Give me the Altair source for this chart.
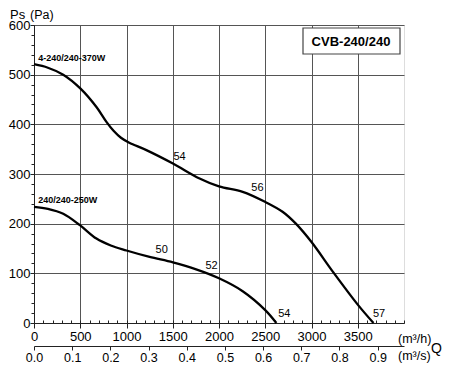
import altair as alt
import pandas as pd

# ---- data ----
q_370 = [0, 150, 316, 503, 675, 783, 860, 940, 1030, 1215, 1502, 1790, 2000, 2256, 2497, 2687, 2831, 3000, 3232, 3500, 3670]
p_370 = [521, 514, 500, 472, 435, 405, 387, 373, 363, 348, 321, 291, 275, 264, 244, 224, 200, 163, 103, 37, 0]
q_250 = [0, 150, 316, 496, 675, 830, 1000, 1250, 1502, 1753, 2000, 2256, 2500, 2620]
p_250 = [234, 230, 220, 197, 170, 156, 146, 133, 122, 108, 90, 64, 26, 0]

series_names = ["4-240/240-370W", "240/240-250W"]
series_label_q = [45, 45]
series_label_p = [533, 248]

point_labels = ["54", "56", "57", "50", "52", "54"]
point_label_q = [1574, 2415, 3730, 1380, 1919, 2706]
point_label_p = [334, 271, 19, 146, 114, 19]

x_ticks_h = [0, 500, 1000, 1500, 2000, 2500, 3000, 3500]
x_minor_h = list(range(0, 4001, 100))
y_ticks = [0, 100, 200, 300, 400, 500, 600]
y_minor = list(range(0, 601, 20))
x_ticks_s = [0.0, 0.1, 0.2, 0.3, 0.4, 0.5, 0.6, 0.7, 0.8, 0.9]

title_text = "CVB-240/240"
axis_texts = ["Ps", "(Pa)", "(m³/h)", "(m³/s)", "Q"]

FONT = "Liberation Sans"
W, H = 370, 298

df = pd.DataFrame({
    "q": q_370 + q_250,
    "p": p_370 + p_250,
    "series": [series_names[0]] * len(q_370) + [series_names[1]] * len(q_250),
})

xs = alt.Scale(domain=[0, 4000], nice=False, zero=False)
ys = alt.Scale(domain=[0, 600], nice=False)

lines = alt.Chart(df).mark_line(color="black", strokeWidth=2.3, interpolate="catmull-rom").encode(
    x=alt.X("q:Q", scale=xs, axis=alt.Axis(
        values=x_ticks_h, format="d", grid=True, gridColor="#555", gridWidth=1, title=None,
        tickSize=5, tickColor="#222", domainColor="#222", labelFont=FONT, labelFontSize=13,
        labelColor="black", labelPadding=2, labelFlush=False, orient="bottom")),
    y=alt.Y("p:Q", scale=ys, axis=alt.Axis(
        values=y_ticks, grid=True, gridColor="#555", gridWidth=1, title=None,
        tickSize=4, tickColor="#222", domainColor="#222", labelFont=FONT, labelFontSize=13,
        labelColor="black", labelPadding=0, orient="left")),
    detail="series:N",
)

minor = alt.Chart(pd.DataFrame({"q": x_minor_h})).mark_point(opacity=0).encode(
    x=alt.X("q:Q", scale=xs, axis=alt.Axis(
        values=x_minor_h, labels=False, domain=False, grid=False, title=None,
        tickSize=3, tickColor="#222", orient="top", offset=-H)),
)
minor_y = alt.Chart(pd.DataFrame({"p": y_minor})).mark_point(opacity=0).encode(
    y=alt.Y("p:Q", scale=ys, axis=alt.Axis(
        values=y_minor, labels=False, domain=False, grid=False, title=None,
        tickSize=3, tickColor="#222", orient="left")),
)

sl = pd.DataFrame({"q": series_label_q, "p": series_label_p, "t": series_names})
series_txt = alt.Chart(sl).mark_text(align="left", baseline="middle", fontSize=9,
                                     fontWeight="bold", font=FONT, color="black").encode(
    x=alt.X("q:Q", scale=xs, axis=None), y=alt.Y("p:Q", scale=ys, axis=None), text="t:N")

pl = pd.DataFrame({"q": point_label_q, "p": point_label_p, "t": point_labels})
point_txt = alt.Chart(pl).mark_text(align="center", baseline="middle", fontSize=11,
                                    font=FONT, color="black").encode(
    x=alt.X("q:Q", scale=xs, axis=None), y=alt.Y("p:Q", scale=ys, axis=None), text="t:N")

tdf = pd.DataFrame({"t": [title_text]})
box = alt.Chart(tdf).mark_rect(fill="white", stroke="#444", strokeWidth=1.2).encode(
    x=alt.value(269), x2=alt.value(366), y=alt.value(3), y2=alt.value(29))
box_txt = alt.Chart(tdf).mark_text(fontSize=13, fontWeight="bold", font=FONT, color="black",
                                   align="center", baseline="middle").encode(
    x=alt.value(317), y=alt.value(16.5), text="t:N")

adf = pd.DataFrame({
    "t": axis_texts,
    "x": [-24, -4, 364, 364, 397],
    "y": [-10, -10, 314, 331, 324],
    "s": [13, 12.5, 12.5, 12.5, 14],
})
axis_txt = alt.Chart(adf).mark_text(align="left", baseline="middle", font=FONT, color="black").encode(
    x=alt.X("x:Q", scale=None), y=alt.Y("y:Q", scale=None), text="t:N",
    size=alt.Size("s:Q", scale=None, legend=None))

inner = alt.layer(lines, minor, minor_y, series_txt, point_txt, box, box_txt, axis_txt).resolve_axis(
    x="independent", y="independent")

sdf = pd.DataFrame({"s": x_ticks_s})
second = alt.Chart(sdf).mark_point(opacity=0).encode(
    x=alt.X("s:Q", scale=alt.Scale(domain=[0, 0.969], nice=False, zero=False), axis=alt.Axis(
        values=x_ticks_s, format=".1f", orient="bottom", offset=23, title=None, grid=False,
        tickSize=4, tickColor="#222", domainColor="#222", labelFont=FONT, labelFontSize=12.5,
        labelColor="black", labelPadding=1, labelFlush=False)),
)

chart = alt.layer(inner, second).resolve_scale(x="independent").properties(
    width=W, height=H,
    autosize=alt.AutoSizeParams(type="none"),
    padding={"left": 26, "top": 17, "right": 38, "bottom": 42},
).configure_view(stroke="#222", strokeWidth=1.2).configure(background="white")

chart.save("out.html", embed_options={"renderer": "svg", "actions": False})
